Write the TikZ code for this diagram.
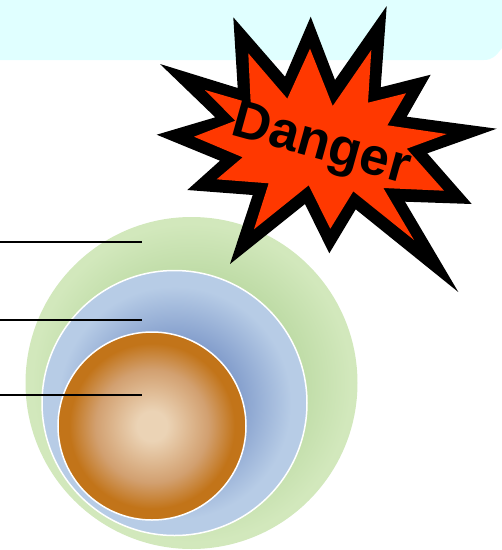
\documentclass[tikz,border=0pt]{standalone}
\usepackage{fontspec}
\setmainfont{Liberation Sans}
\usepackage{xcolor}
\usetikzlibrary{positioning}
\definecolor{banner}{HTML}{E0FFFF}
\definecolor{blast}{HTML}{FF3800}
\definecolor{greenrim}{HTML}{D2E8BC}
\definecolor{greenmid}{HTML}{B9D8A0}
\definecolor{bluerim}{HTML}{B7CCE6}
\definecolor{bluemid}{HTML}{7F9ACA}
\definecolor{brownrim}{HTML}{C27419}
\definecolor{brownmid}{HTML}{D2A070}
\definecolor{browncore}{HTML}{EBD3B5}
\pgfdeclareradialshading{greenglow}{\pgfpointorigin}{color(0bp)=(greenmid); color(14bp)=(greenmid); color(24bp)=(greenrim); color(50bp)=(greenrim)}
\pgfdeclareradialshading{blueglow}{\pgfpointorigin}{color(0bp)=(bluemid); color(11bp)=(bluemid); color(22bp)=(bluerim); color(50bp)=(bluerim)}
\pgfdeclareradialshading{brownglow}{\pgfpointorigin}{color(0bp)=(browncore); color(4bp)=(browncore); color(15bp)=(brownmid); color(22bp)=(brownrim); color(50bp)=(brownrim)}
\tikzset{
  layer/.style={circle, inner sep=0pt, outer sep=0pt},
  leader/.style={draw=black, line width=1.5pt},
  dangertext/.style={font=\fontsize{53}{60}\selectfont\bfseries, rotate=-15.5, inner sep=0pt},
}

\begin{document}
\begin{tikzpicture}[x=1pt, y=-1pt]
  \useasboundingbox (0,0) rectangle (502,550);

  % top band
  \fill[banner] (0,0) -- (502,0) -- (502,48)
        .. controls (496,56) and (492,60) .. (484,60) -- (0,60) -- cycle;

  % nested spheres
  \node[layer, minimum size=332pt, shading=greenglow] (outer) at (191.5,383) {};
  \node[layer, minimum size=265pt, shading=blueglow, draw=white, line width=1.5pt] (middle) at (174.5,403) {};
  \node[layer, minimum size=188pt, shading=brownglow, draw=white, line width=1.5pt] (core) at (152,426) {};

  % leaders
  \coordinate (outerend)  at (142,242);
  \coordinate (middleend) at (142,320);
  \coordinate (coreend)   at (142,395);
  \coordinate (outerfree)  at (0,242);
  \coordinate (middlefree) at (0,320);
  \coordinate (corefree)   at (0,395);
  \foreach \a/\b in {outerfree/outerend, middlefree/middleend, corefree/coreend}
    \draw[leader] (\a) -- (\b);

  % burst
  \fill[black] (233.3,17.3) -- (285,76.7) -- (310.7,16.7) -- (335,80) -- (386.7,6) -- (380.7,87.3)
        -- (430.7,74.7) -- (406.7,116.7) -- (496.7,128.7) -- (427.3,153.3) -- (471.7,204)
        -- (405,201.7) -- (458.3,292) -- (355.7,209.3) -- (329.3,253.3) -- (305,204)
        -- (230,264) -- (252.7,195) -- (187.3,190) -- (220,160.7) -- (156.7,134.7)
        -- (215.3,117.3) -- (160,64) -- (237.7,88) -- cycle;
  \fill[blast] (248.3,53.3) -- (287.3,98.7) -- (310,48.7) -- (332.7,106) -- (371.3,50) -- (368,102.7)
        -- (406,93.3) -- (387.3,125.3) -- (446.7,134) -- (406.7,148.7) -- (444,190.7)
        -- (383.3,188) -- (414,240) -- (353.3,191.3) -- (330.3,228.7) -- (308.7,185.3)
        -- (254,229.3) -- (268.7,183.3) -- (216.7,179.3) -- (242.7,157.3) -- (194,136.7)
        -- (235.3,120.7) -- (205,90) -- (250.7,103.3) -- cycle;
  \node[dangertext] (danger) at (320.5,147) {Danger};
\end{tikzpicture}
\end{document}
